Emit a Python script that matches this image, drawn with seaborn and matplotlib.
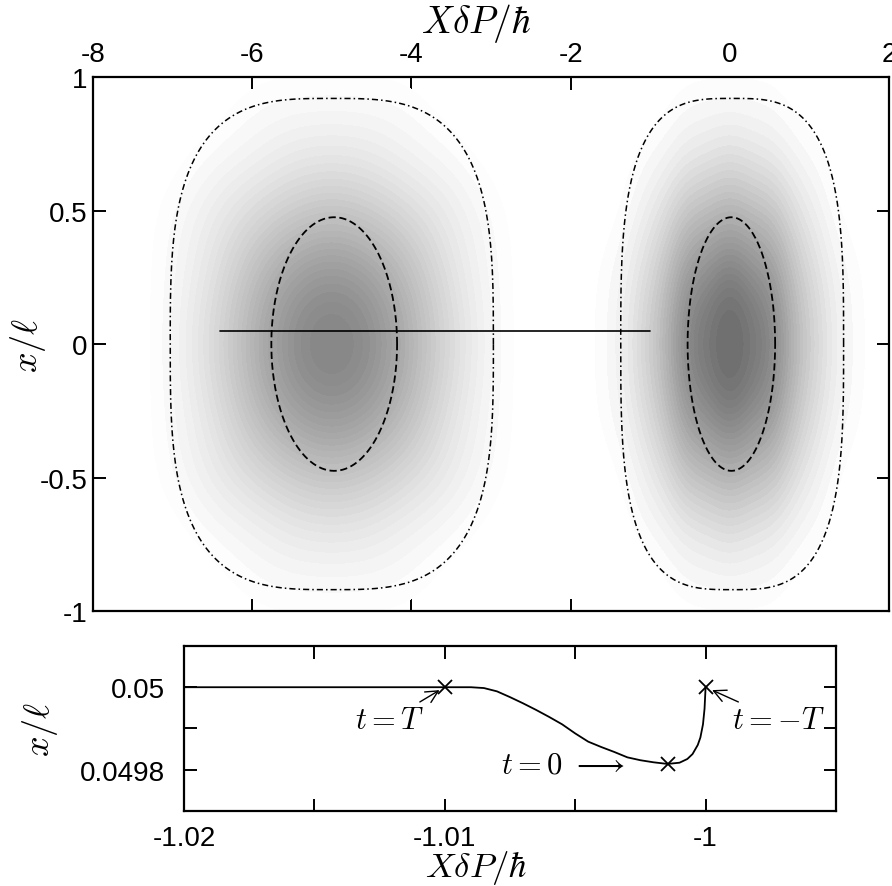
import numpy as np
import pandas as pd
import matplotlib
matplotlib.use("Agg")
import matplotlib.pyplot as plt
from matplotlib.colors import LinearSegmentedColormap
from matplotlib.ticker import MultipleLocator, FuncFormatter
import seaborn as sns

# --- point clouds: relative dot density per cell ---
left_x = [-7.5, -7.0, -6.5, -6.0, -5.5, -5.0, -4.5, -4.0, -3.5, -3.0, -2.5]
right_x = [-1.5, -1.0, -0.5, 0.0, 0.5, 1.0, 1.5]
cloud_y = [0.9, 0.7, 0.5, 0.3, 0.1, -0.1, -0.3, -0.5, -0.7, -0.9]
left_counts = [
    [0, 0, 0, 1, 1, 1, 1, 1, 0, 0, 0],
    [0, 0, 1, 1, 2, 2, 2, 1, 1, 0, 0],
    [0, 1, 2, 3, 4, 5, 4, 3, 2, 1, 0],
    [0, 1, 2, 5, 7, 8, 7, 5, 2, 1, 0],
    [0, 1, 3, 6, 9, 10, 9, 6, 3, 1, 0],
    [0, 1, 3, 6, 9, 10, 9, 6, 3, 1, 0],
    [0, 1, 2, 5, 7, 8, 7, 5, 2, 1, 0],
    [0, 1, 2, 3, 4, 5, 4, 3, 2, 1, 0],
    [0, 0, 1, 1, 2, 2, 2, 1, 1, 0, 0],
    [0, 0, 0, 1, 1, 1, 1, 1, 0, 0, 0],
]
right_counts = [
    [0, 0, 1, 1, 1, 0, 0],
    [0, 1, 2, 3, 2, 1, 0],
    [0, 2, 5, 6, 5, 2, 0],
    [1, 3, 8, 10, 8, 3, 1],
    [1, 4, 10, 12, 10, 4, 1],
    [1, 4, 10, 12, 10, 4, 1],
    [1, 3, 8, 10, 8, 3, 1],
    [0, 2, 5, 6, 5, 2, 0],
    [0, 1, 2, 3, 2, 1, 0],
    [0, 0, 1, 1, 1, 0, 0],
]

# contours: centre x, centre y, half width, half height, exponent
inner_left = (-4.97, 0.0, 0.79, 0.475, 2.0)
inner_right = (0.02, 0.0, 0.55, 0.475, 2.0)
outer_left = (-5.0, 0.0, 2.03, 0.92, 3.2)
outer_right = (0.03, 0.0, 1.40, 0.92, 3.2)

# straight trajectory in the upper panel
traj_x = [-6.4, -1.0]
traj_y = [0.05, 0.05]

# zoomed trajectory (lower panel)
curve_x = [-1.02, -1.0090, -1.0085, -1.0080, -1.0075, -1.0070, -1.0065,
           -1.0060, -1.0055, -1.0050, -1.0045, -1.0040, -1.0035, -1.0030,
           -1.0025, -1.0020, -1.00146, -1.0010, -1.0007, -1.0005, -1.0003,
           -1.0002, -1.0001, -1.00004, -1.0]
curve_y = [0.05, 0.05, 0.049998, 0.049990, 0.049976, 0.049961, 0.049945,
           0.049928, 0.049910, 0.049888, 0.049868, 0.049855, 0.049843, 0.049830,
           0.049823, 0.049818, 0.049814, 0.049817, 0.049826, 0.049838, 0.049860,
           0.049878, 0.049910, 0.049948, 0.05]
mark_x = [-1.01, -1.00146, -1.0]
mark_y = [0.05, 0.049814, 0.05]


def to_frame(xs, ys, counts):
    rows = []
    for i, yv in enumerate(ys):
        for j, xv in enumerate(xs):
            if counts[i][j] > 0:
                rows.append((xv, yv, counts[i][j]))
    return pd.DataFrame(rows, columns=["x", "y", "w"])


def superellipse(cx, cy, a, b, n):
    t = np.linspace(0, 2 * np.pi, 400)
    c, s = np.cos(t), np.sin(t)
    x = cx + a * np.sign(c) * np.abs(c) ** (2 / n)
    y = cy + b * np.sign(s) * np.abs(s) ** (2 / n)
    return x, y


sns.set_style("white")
plt.rcParams["font.family"] = ["Liberation Sans", "DejaVu Sans"]
plt.rcParams["mathtext.fontset"] = "cm"
plt.rcParams["axes.unicode_minus"] = False
plt.rcParams["axes.linewidth"] = 1.6
for key in ("text.color", "axes.labelcolor", "axes.edgecolor",
            "xtick.color", "ytick.color"):
    plt.rcParams[key] = "black"

fig = plt.figure(figsize=(8.92, 8.87), dpi=100)
ax1 = fig.add_axes([0.1043, 0.310, 0.8923, 0.602])
ax2 = fig.add_axes([0.2063, 0.0846, 0.7309, 0.186])

fmt = FuncFormatter(lambda v, p: "%g" % round(v, 6))

# ---------------- upper panel ----------------
cm_left = LinearSegmentedColormap.from_list("l", ["#ffffff", "#868686"])
cm_right = LinearSegmentedColormap.from_list("r", ["#ffffff", "#6e6e6e"])
sns.kdeplot(data=to_frame(left_x, cloud_y, left_counts), x="x", y="y", weights="w",
            fill=True, levels=30, thresh=0.04, cmap=cm_left, bw_adjust=0.75,
            gridsize=200, ax=ax1, zorder=1)
sns.kdeplot(data=to_frame(right_x, cloud_y, right_counts), x="x", y="y", weights="w",
            fill=True, levels=30, thresh=0.04, cmap=cm_right, bw_adjust=0.75,
            gridsize=200, ax=ax1, zorder=1)

for c in (inner_left, inner_right):
    ex, ey = superellipse(*c)
    ax1.plot(ex, ey, color="k", lw=1.3, dashes=(4, 2), zorder=3)
for c in (outer_left, outer_right):
    ex, ey = superellipse(*c)
    ax1.plot(ex, ey, color="k", lw=1.1, dashes=(4, 2, 1, 2), zorder=3)

sns.lineplot(x=traj_x, y=traj_y, color="k", lw=1.2, ax=ax1, zorder=4)

ax1.set_xlim(-8, 2)
ax1.set_ylim(-1, 1)
ax1.xaxis.set_major_locator(MultipleLocator(2))
ax1.yaxis.set_major_locator(MultipleLocator(0.5))
ax1.xaxis.set_major_formatter(fmt)
ax1.yaxis.set_major_formatter(fmt)
ax1.tick_params(direction="in", length=9, width=1.4, top=True, bottom=True,
                left=True, right=True, labeltop=True, labelbottom=False,
                labelsize=20)
ax1.tick_params(axis="x", pad=7)
ax1.tick_params(axis="y", pad=4)
ax1.xaxis.set_label_position("top")
ax1.set_xlabel(r"$X\delta P/\hbar$", fontsize=27)
ax1.xaxis.set_label_coords(0.481, 1.085)
ax1.set_ylabel(r"$x/\ell$", fontsize=26)
ax1.yaxis.set_label_coords(-0.057, 0.5)

# ---------------- lower panel ----------------
sns.lineplot(x=curve_x, y=curve_y, color="k", lw=1.3, sort=False, ax=ax2)
ax2.plot(mark_x, mark_y, ls="none", marker="x", ms=10, mew=1.3, color="k")

ax2.annotate(r"$t=T$", xy=(-1.0102, 0.049993), xytext=(-1.0108, 0.049920),
             fontsize=22, ha="right", va="center",
             arrowprops=dict(arrowstyle="->", lw=1.0, color="k",
                             shrinkA=0, shrinkB=0))
ax2.annotate(r"$t=-T$", xy=(-0.99975, 0.049993), xytext=(-0.99897, 0.049920),
             fontsize=22, ha="left", va="center",
             arrowprops=dict(arrowstyle="->", lw=1.0, color="k",
                             shrinkA=0, shrinkB=0))
ax2.text(-1.0031, 0.049812, r"$t=0\ \longrightarrow$", fontsize=22,
         ha="right", va="center")

ax2.set_xlim(-1.02, -0.995)
ax2.set_ylim(0.0497, 0.0501)
ax2.xaxis.set_major_locator(MultipleLocator(0.005))
ax2.yaxis.set_major_locator(MultipleLocator(0.0001))
ax2.xaxis.set_major_formatter(FuncFormatter(
    lambda v, p: "%g" % round(v, 3) if abs(v * 100 - round(v * 100)) < 1e-6 else ""))
ax2.yaxis.set_major_formatter(FuncFormatter(
    lambda v, p: "%g" % round(v, 5) if abs(v * 5000 - round(v * 5000)) < 1e-6 else ""))
ax2.tick_params(direction="in", length=9, width=1.4, top=True, bottom=True,
                left=True, right=True, labelsize=20)
ax2.tick_params(axis="x", pad=10)
ax2.tick_params(axis="y", pad=14)
ax2.set_xlabel(r"$X\delta P/\hbar$", fontsize=25)
ax2.xaxis.set_label_coords(0.448, -0.225)
ax2.set_ylabel(r"$x/\ell$", fontsize=26)
ax2.yaxis.set_label_coords(-0.19, 0.5)

fig.savefig("out.png", dpi=100)
